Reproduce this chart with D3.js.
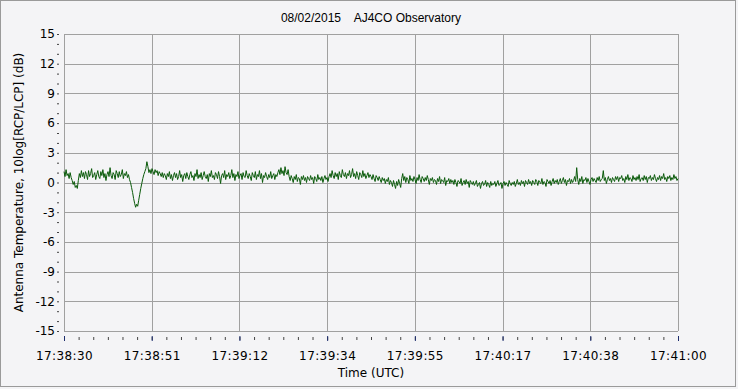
<!DOCTYPE html>
<html>
<head>
<meta charset="utf-8">
<script src="https://cdn.jsdelivr.net/npm/d3@7"></script>
<style>
    body { margin: 0; background: #f4f4f6; }
    svg { display: block; }
    text { font-family: "DejaVu Sans", Verdana, sans-serif; font-size: 12px; fill: #000; }
    .title { font-family: "Liberation Sans", Arial, sans-serif; white-space: pre; }
</style>
</head>
<body>
<div id="chart"></div>
<script>
// chart values
let chartTitle = '08/02/2015    AJ4CO Observatory';
let yLabel = 'Antenna Temperature, 10log[RCP/LCP] (dB)';
let xLabel = 'Time (UTC)';
let startTime = '17:38:30';
let endTime = '17:41:00';
let sampleStep = 0.25; // seconds between samples
let xTickLabels = ['17:38:30', '17:38:51', '17:39:12', '17:39:34', '17:39:55', '17:40:17', '17:40:38', '17:41:00'];
let yTicks = [15, 12, 9, 6, 3, 0, -3, -6, -9, -12, -15];
// one row = 5 seconds
let ratioDb = [
    1.1, 0.6, 1.3, 0.7, 0.9, 0.4, 1.0, 0.5, 0.2, -0.2, 0.1, -0.5, -0.3, -0.6, 0.2, 0.9, 0.5, 1.2, 0.6, 1.0,
    0.4, 1.1, 0.8, 0.3, 1.2, 0.6, 0.9, 1.4, 0.5, 0.7, 1.0, 0.3, 0.8, 1.2, 0.6, 0.4, 1.1, 0.7, 1.3, 0.5,
    0.9, 0.2, 0.8, 1.1, 0.6, 1.5, 0.7, 0.4, 1.0, 0.8, 0.3, 1.2, 0.9, 0.5, 1.1, 0.6, 0.8, 1.3, 0.4, 0.9,
    0.7, 1.1, 0.5, 0.8, 0.3, 0.0, -0.5, -1.0, -1.6, -2.1, -2.5, -2.2, -2.4, -1.8, -1.2, -0.6, -0.1, 0.4, 0.8, 1.1,
    1.4, 2.1, 1.6, 1.0, 1.3, 0.9, 1.4, 1.1, 0.8, 1.3, 1.0, 1.2, 0.7, 1.1, 0.9, 0.6, 1.0, 0.5, 0.9, 0.7,
    0.3, 0.9, 0.6, 1.1, 0.4, 0.8, 0.2, 0.7, 1.0, 0.5, 0.9, 0.3, 0.6, 1.2, 0.5, 0.8, 0.1, 0.7, 0.9, 0.4,
    1.0, 0.6, 0.3, 0.8, 1.1, 0.5, 0.7, 0.2, 0.9, 0.6, 1.3, 0.4, 0.8, 0.5, 1.0, 0.3, 0.7, 1.1, 0.6, 0.4,
    0.8, 0.1, 0.9, 0.6, 1.2, 0.5, 0.7, 0.3, 1.0, 0.8, 0.4, 1.1, 0.6, -0.1, 0.7, 0.9, 0.5, 1.2, 0.3, 0.8,
    0.6, 1.0, 0.4, 0.7, 1.3, 0.5, 0.9, 0.2, 0.8, 0.6, 1.1, 0.4, 0.7, 0.9, 0.3, 1.0, 0.6, 0.5, 1.2, 0.7,
    0.4, 0.9, 0.6, 0.2, 1.0, 0.7, 0.5, 1.1, 0.3, 0.8, 0.6, 1.2, 0.4, 0.9, 0.0, 0.7, 0.5, 1.0, 0.6, 0.3,
    0.8, 0.5, 1.1, 0.4, 0.7, 0.9, 0.3, 0.8, 0.6, 1.0, 1.3, 0.8, 1.5, 0.9, 1.2, 0.7, 1.6, 1.0, 0.8, 1.3,
    0.6, 0.2, 0.7, 0.4, 0.0, 0.6, 0.3, 0.8, 0.1, 0.5, 0.4, -0.2, 0.6, 0.3, 0.7, 0.2, 0.5, 0.0, 0.6, 0.4,
    0.2, 0.7, 0.3, 0.5, -0.1, 0.6, 0.4, 0.1, 0.8, 0.3, 0.5, 0.2, 0.6, 0.0, 0.4, 0.7, 0.3, 0.5, 0.1, 0.6,
    0.9, 0.5, 1.2, 0.7, 0.4, 1.0, 0.6, 0.9, 0.3, 1.1, 0.7, 0.5, 1.3, 0.8, 0.6, 1.0, 0.4, 0.9, 0.7, 1.2,
    0.5, 0.8, 1.4, 0.6, 0.9, 0.4, 1.1, 0.7, 0.3, 1.0, 0.8, 0.5, 1.2, 0.6, 0.9, 0.4, 0.7, 1.0, 0.5, 0.8,
    0.6, 0.3, 0.8, 0.4, 0.1, 0.7, 0.5, 0.2, 0.6, 0.3, 0.0, 0.5, 0.2, 0.4, -0.1, 0.3, 0.1, 0.5, -0.2, 0.2,
    0.0, -0.4, 0.2, -0.2, -0.6, 0.1, -0.3, 0.3, -0.1, -0.5, 0.4, 0.9, 0.2, 0.6, 0.0, 0.5, 0.3, -0.1, 0.7, 0.2,
    0.4, 0.1, 0.6, 0.3, -0.1, 0.5, 0.2, 0.8, 0.3, 0.0, 0.6, 0.4, 0.1, 0.5, 0.2, 0.7, 0.3, -0.2, 0.4, 0.2,
    0.5, 0.0, 0.3, 0.2, -0.2, 0.4, 0.1, 0.6, -0.1, 0.3, 0.2, 0.0, 0.5, -0.3, 0.2, 0.1, 0.4, -0.1, 0.3, 0.0,
    0.2, -0.2, 0.3, 0.0, -0.4, 0.2, 0.1, -0.1, 0.4, -0.3, 0.0, 0.2, -0.2, 0.3, -0.1, 0.1, -0.5, 0.2, 0.0, -0.2,
    0.1, -0.3, -0.1, 0.2, -0.4, -0.2, 0.0, -0.6, -0.1, 0.1, -0.3, -0.2, 0.2, -0.4, 0.0, -0.2, -0.5, 0.1, -0.3, -0.1,
    -0.2, 0.1, -0.4, -0.1, 0.2, -0.3, -0.2, 0.0, -0.6, -0.1, 0.1, -0.3, 0.0, -0.2, -0.4, 0.2, -0.1, -0.3, 0.0, -0.2,
    0.1, -0.4, -0.1, 0.3, -0.2, 0.0, -0.3, 0.2, -0.1, 0.1, -0.4, 0.2, 0.0, -0.2, 0.3, -0.1, 0.1, -0.3, 0.2, 0.0,
    -0.2, 0.3, 0.1, -0.3, 0.2, 0.0, -0.1, 0.4, -0.2, 0.1, 0.0, -0.4, 0.3, 0.1, -0.1, 0.2, -0.3, 0.1, 0.4, -0.1,
    0.2, 0.0, 0.3, -0.2, 0.1, 0.4, -0.1, 0.2, 0.5, 0.0, 0.3, -0.3, 0.2, 0.1, 0.4, -0.1, 0.3, 0.0, 0.2, 0.6,
    0.1, 1.5, 0.3, -0.2, 0.4, 0.1, 0.6, -0.1, 0.3, 0.2, 0.5, 0.0, 0.4, 0.1, -0.2, 0.3, 0.5, 0.1, 0.4, 0.2,
    0.0, 0.5, 0.2, 0.6, 0.1, 0.3, 0.4, 1.2, 0.2, 0.5, -0.1, 0.3, 0.6, 0.2, 0.4, 0.0, 0.5, 0.3, 0.1, 0.6,
    0.3, 0.6, 0.1, 0.5, 0.4, 0.7, 0.2, 0.4, 0.0, 0.6, 0.3, 0.8, 0.2, 0.5, 0.4, 0.1, 0.7, 0.3, 0.5, 0.2,
    0.6, 0.3, 0.8, 0.1, 0.4, 0.5, 0.2, 0.7, 0.3, 0.6, 0.0, 0.5, 0.4, 0.7, 0.2, 0.5, 0.3, 0.8, 0.4, 0.1,
    0.5, 0.3, 0.7, 0.2, 0.6, 0.4, 0.9, 0.3, 0.5, 0.1, 0.6, 0.4, 0.7, 0.2, 0.5, 0.3, 0.8, 0.4, 0.6, 0.2,
    0.4
];

let width = 738;
let height = 389;
let margin = { top: 34, right: 60, bottom: 58, left: 64 };

let parseTime = d3.timeParse('%H:%M:%S');
let t0 = parseTime(startTime);
let t1 = parseTime(endTime);

let svg = d3.select('#chart')
    .append('svg')
    .attr('width', width)
    .attr('height', height);

// outer frame
svg.append('rect')
    .attr('x', 0.5).attr('y', 0.5)
    .attr('width', width - 3).attr('height', height - 3)
    .style('fill', '#f4f4f6')
    .style('stroke', '#9a9a9a');

let x = d3.scaleTime()
    .domain([t0, t1])
    .range([margin.left, width - margin.right]);

let y = d3.scaleLinear()
    .domain([-15, 15])
    .range([height - margin.bottom, margin.top]);

let xMajor = d3.range(xTickLabels.length).map(i => new Date(+t0 + (t1 - t0) * i / (xTickLabels.length - 1)));
let xMinor = d3.range((xTickLabels.length - 1) * 6 + 1).map(i => new Date(+t0 + (t1 - t0) * i / ((xTickLabels.length - 1) * 6)));

// grid
let grid = svg.append('g').style('stroke', '#a0a0a0').style('shape-rendering', 'crispEdges');
grid.selectAll('.hgrid')
    .data(yTicks)
    .enter().append('line')
    .attr('x1', margin.left).attr('x2', width - margin.right)
    .attr('y1', d => Math.round(y(d)) + 0.5).attr('y2', d => Math.round(y(d)) + 0.5);
grid.selectAll('.vgrid')
    .data(xMajor)
    .enter().append('line')
    .attr('y1', margin.top).attr('y2', height - margin.bottom)
    .attr('x1', d => Math.round(x(d)) + 0.5).attr('x2', d => Math.round(x(d)) + 0.5);

// y axis
let yAxis = svg.append('g').attr('transform', `translate(${margin.left - 5},0)`)
    .call(d3.axisLeft(y).tickValues(d3.range(-15, 16, 1)).tickSize(2).tickFormat(d => yTicks.includes(d) ? d : ''));
yAxis.select('.domain').remove();
yAxis.selectAll('line').style('stroke', '#444');
yAxis.selectAll('text').attr('x', -4).style('font-family', '"DejaVu Sans", Verdana, sans-serif').style('font-size', '12px');

// x axis
let xAxis = svg.append('g').attr('transform', `translate(0,${height - margin.bottom + 6})`)
    .call(d3.axisBottom(x).tickValues(xMinor).tickSize(3).tickFormat(''));
xAxis.select('.domain').remove();
xAxis.selectAll('line').style('stroke', '#444');
let xAxisMajor = svg.append('g').attr('transform', `translate(0,${height - margin.bottom + 5})`)
    .call(d3.axisBottom(x).tickValues(xMajor).tickSize(5).tickPadding(10).tickFormat((d, i) => xTickLabels[i]));
xAxisMajor.select('.domain').remove();
xAxisMajor.selectAll('line').style('stroke', '#1c2c6c');
xAxisMajor.selectAll('text')
    .style('font-family', '"DejaVu Sans", Verdana, sans-serif')
    .style('font-size', '12px')
    .style('letter-spacing', '0.4px');

// data line
let line = d3.line()
    .x((d, i) => x(new Date(+t0 + i * sampleStep * 1000)))
    .y(d => y(d));

svg.append('path')
    .datum(ratioDb)
    .attr('d', line)
    .style('fill', 'none')
    .style('stroke', '#0a5a0a')
    .style('stroke-width', 1);

// labels
svg.append('text')
    .attr('class', 'title')
    .attr('x', 371).attr('y', 22)
    .attr('text-anchor', 'middle')
    .text(chartTitle);

svg.append('text')
    .attr('x', (margin.left + width - margin.right) / 2).attr('y', 377)
    .attr('text-anchor', 'middle')
    .text(xLabel);

svg.append('text')
    .attr('transform', `translate(23,${(margin.top + height - margin.bottom) / 2}) rotate(-90)`)
    .attr('text-anchor', 'middle')
    .text(yLabel);
</script>
</body>
</html>
